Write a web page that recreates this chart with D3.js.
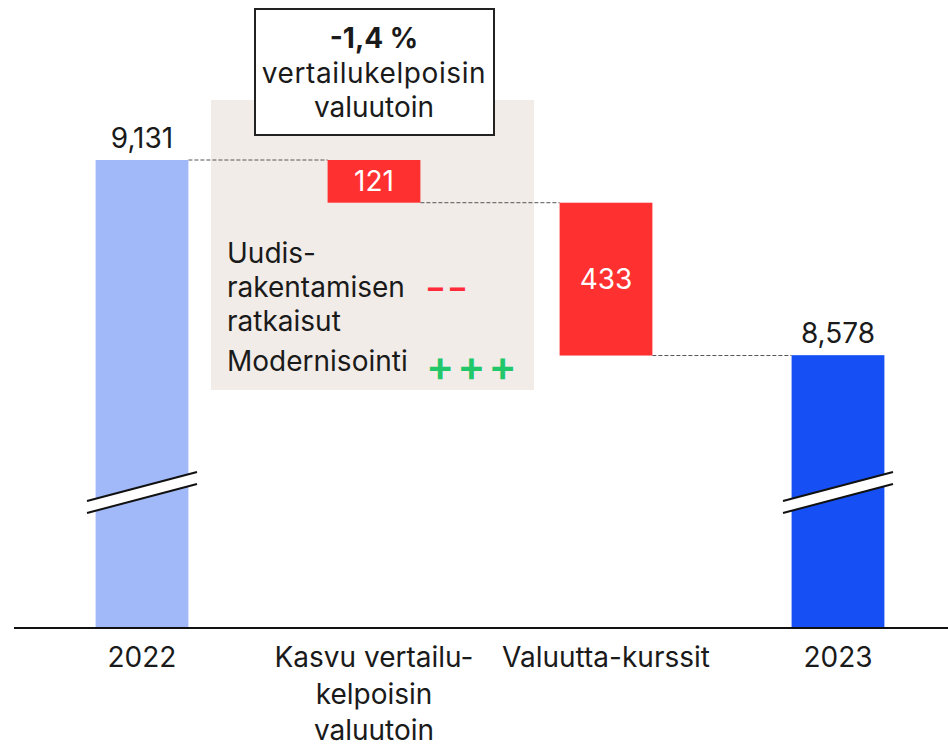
<!DOCTYPE html>
<html>
<head>
<meta charset="utf-8">
<script src="https://cdn.jsdelivr.net/npm/d3@7"></script>
<style>
  body { margin: 0; background: #fff; }
  text { font-family: Inter, "Noto Sans", sans-serif; }
</style>
</head>
<body>
<div id="chart"></div>
<script>
var width = 948;
var height = 747;

// data
var categories = ["2022", "Kasvu vertailu-|kelpoisin|valuutoin", "Valuutta-kurssit", "2023"];
var values = [9131, -121, -433, 8578];
var kinds = ["total", "delta", "delta", "total"];
var valueLabels = ["9,131", "121", "433", "8,578"];
var legendItems = ["Uudis-|rakentamisen|ratkaisut", "Modernisointi"];
var legendMarks = ["– –", "+++"];
var calloutLines = ["-1,4 %", "vertailukelpoisin", "valuutoin"];

var colors = { first: "#a1b9f9", last: "#1650f5", neg: "#ff3030" };
var fs = 28;

var svg = d3.select('#chart').append('svg')
  .attr('width', width)
  .attr('height', height);

var x = d3.scaleBand().domain(categories).range([26, 954]).paddingInner(0.6).paddingOuter(0.3);
// broken axis: baseline does not mean zero
var y = d3.scaleLinear().domain([7805, 9131]).range([628, 160]);

// build waterfall segments
var run = 0;
var bars = categories.map(function (c, i) {
  var d = { cat: c, label: valueLabels[i], kind: kinds[i] };
  if (kinds[i] == "total") {
    d.y0 = y.domain()[0]; d.y1 = values[i]; run = values[i];
    d.color = i == 0 ? colors.first : colors.last;
  } else {
    d.y0 = run + values[i]; d.y1 = run; run = run + values[i];
    d.color = colors.neg;
  }
  d.end = run;
  return d;
});

// gray panel behind the growth bar
svg.append('rect')
  .attr('x', 211).attr('y', 100)
  .attr('width', 323).attr('height', 290)
  .attr('fill', '#f1ece8');

// connectors
for (var i = 0; i < bars.length - 1; i++) {
  svg.append('line')
    .attr('x1', x(bars[i].cat) + x.bandwidth())
    .attr('x2', x(bars[i + 1].cat))
    .attr('y1', y(bars[i].end))
    .attr('y2', y(bars[i].end))
    .attr('stroke', '#555')
    .attr('stroke-width', 1)
    .attr('stroke-dasharray', '4,2');
}

svg.selectAll('rect.bar').data(bars).enter().append('rect')
  .attr('class', 'bar')
  .attr('x', function (d) { return x(d.cat); })
  .attr('y', function (d) { return y(d.y1); })
  .attr('width', x.bandwidth())
  .attr('height', function (d) { return y(d.y0) - y(d.y1); })
  .attr('fill', function (d) { return d.color; });

// value labels
svg.selectAll('text.val').data(bars).enter().append('text')
  .attr('class', 'val')
  .attr('x', function (d) { return x(d.cat) + x.bandwidth() / 2; })
  .attr('y', function (d) {
    return d.kind == "total" ? y(d.y1) - 12 : (y(d.y0) + y(d.y1)) / 2 + 10;
  })
  .attr('text-anchor', 'middle')
  .attr('font-size', fs)
  .attr('fill', function (d) { return d.kind == "total" ? '#1a1a1a' : '#fff'; })
  .text(function (d) { return d.label; });

// axis break marks
bars.filter(function (d) { return d.kind == "total"; }).forEach(function (d) {
  var cx = x(d.cat) + x.bandwidth() / 2;
  var brk = svg.append('g');
  brk.append('polygon')
    .attr('points', [[cx - 55, 501], [cx + 55, 472], [cx + 55, 484], [cx - 55, 513]].join(' '))
    .attr('fill', '#fff');
  [0, 12].forEach(function (o) {
    brk.append('line')
      .attr('x1', cx - 55).attr('y1', 501 + o)
      .attr('x2', cx + 55).attr('y2', 472 + o)
      .attr('stroke', '#111').attr('stroke-width', 2);
  });
});

// baseline
svg.append('line')
  .attr('x1', 14).attr('x2', 948)
  .attr('y1', 628).attr('y2', 628)
  .attr('stroke', '#111').attr('stroke-width', 2);

// category labels
var xAxis = svg.append('g');
categories.forEach(function (c) {
  var t = xAxis.append('text')
    .attr('x', x(c) + x.bandwidth() / 2)
    .attr('y', 667)
    .attr('text-anchor', 'middle')
    .attr('font-size', fs)
    .attr('fill', '#1a1a1a');
  c.split('|').forEach(function (line, j) {
    t.append('tspan')
      .attr('x', x(c) + x.bandwidth() / 2)
      .attr('dy', j == 0 ? 0 : 36.5)
      .text(line);
  });
});

// callout box
var cx1 = x(categories[1]) + x.bandwidth() / 2;
svg.append('rect')
  .attr('x', 255).attr('y', 9)
  .attr('width', 239).attr('height', 126)
  .attr('fill', '#fff')
  .attr('stroke', '#222').attr('stroke-width', 2);
calloutLines.forEach(function (l, j) {
  svg.append('text')
    .attr('x', cx1)
    .attr('y', 48 + j * 34.5)
    .attr('text-anchor', 'middle')
    .attr('font-size', fs)
    .attr('letter-spacing', j == 1 ? 0.6 : 0)
    .attr('font-weight', j == 0 ? 'bold' : 'normal')
    .attr('fill', '#1a1a1a')
    .text(l);
});

// legend inside the gray panel
var lg = svg.append('g');
var t1 = lg.append('text').attr('x', 227).attr('y', 263).attr('font-size', fs).attr('fill', '#1a1a1a');
legendItems[0].split('|').forEach(function (line, j) {
  t1.append('tspan').attr('x', 227).attr('dy', j == 0 ? 0 : 34).text(line);
});
lg.append('text').attr('x', 227).attr('y', 371).attr('font-size', fs).attr('fill', '#1a1a1a').text(legendItems[1]);
lg.append('text').attr('x', 428).attr('y', 298).attr('font-size', 30).attr('font-weight', 'bold')
  .attr('fill', '#ff2a3a').text(legendMarks[0]);
lg.append('text').attr('x', 426).attr('y', 381).attr('font-size', 42)
  .attr('font-weight', 600)
  .attr('letter-spacing', 3)
  .attr('fill', '#22c76a').text(legendMarks[1]);
</script>
</body>
</html>
